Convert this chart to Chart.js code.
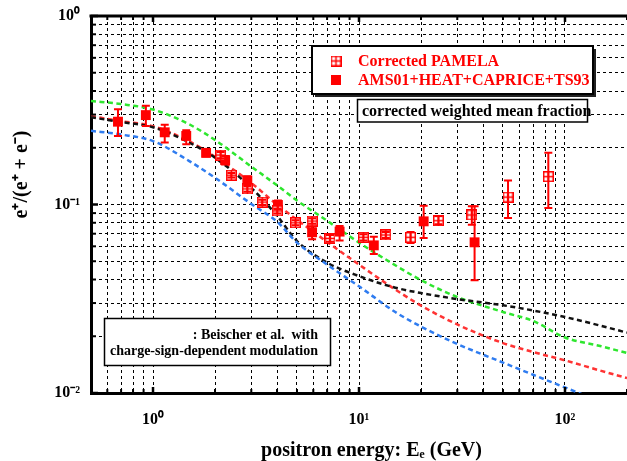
<!DOCTYPE html>
<html>
<head>
<meta charset="utf-8">
<script src="https://cdn.jsdelivr.net/npm/chart.js@4/dist/chart.umd.min.js"></script>
<style>
  html, body { margin: 0; padding: 0; background: #fff; }
  #wrap { width: 627px; height: 461px; }
</style>
</head>
<body>
<div id="wrap"><canvas id="chart" width="627" height="461"></canvas></div>
<script>
// --- data (energy in GeV, fraction e+/(e+ + e-)) ---
const pamelaE  = [2.13, 2.40, 2.87, 3.39, 4.01, 4.92, 5.92, 7.23, 10.5, 13.5, 17.8, 24.3, 35.3, 52.9, 83.0];
const pamelaY  = [0.183, 0.143, 0.121, 0.103, 0.0924, 0.080, 0.0817, 0.0661, 0.067, 0.0689, 0.067, 0.082, 0.088, 0.1095, 0.1405];
const pamelaLo = [0.176, 0.139, 0.117, 0.0995, 0.0895, 0.0775, 0.079, 0.0635, 0.0645, 0.0665, 0.0625, 0.0785, 0.078, 0.0848, 0.0958];
const pamelaHi = [0.190, 0.147, 0.125, 0.106, 0.095, 0.0825, 0.0845, 0.069, 0.0695, 0.0715, 0.0715, 0.087, 0.098, 0.134, 0.188];

const amsE  = [0.676, 0.923, 1.14, 1.45, 1.81, 2.24, 2.87, 4.04, 5.92, 8.05, 11.8, 20.6, 36.4];
const amsY  = [0.275, 0.298, 0.2415, 0.231, 0.188, 0.172, 0.134, 0.0994, 0.0712, 0.0718, 0.0607, 0.0814, 0.063];
const amsLo = [0.231, 0.261, 0.213, 0.209, 0.180, 0.163, 0.127, 0.094, 0.0654, 0.0644, 0.0546, 0.0665, 0.0397];
const amsHi = [0.320, 0.334, 0.265, 0.248, 0.196, 0.181, 0.141, 0.105, 0.0764, 0.0770, 0.0675, 0.0985, 0.098];

// model curves (Beischer et al.)
const curveE     = [0.5, 0.7, 1, 1.5, 2, 3, 4, 5, 7, 10, 15, 20, 30, 50, 70, 100, 150, 200];
const greenCurve = [0.354, 0.341, 0.319, 0.266, 0.22, 0.159, 0.1264, 0.105, 0.082, 0.0628, 0.0476, 0.0397, 0.0323, 0.0269, 0.0241, 0.0197, 0.0177, 0.0163];
const redCurve   = [0.294, 0.277, 0.26, 0.216, 0.179, 0.13, 0.0999, 0.083, 0.0633, 0.048, 0.0354, 0.0291, 0.0231, 0.0184, 0.0165, 0.0149, 0.0131, 0.012];
const blackCurve = [0.29, 0.274, 0.257, 0.213, 0.177, 0.1224, 0.0871, 0.064, 0.0492, 0.0417, 0.0362, 0.0339, 0.0315, 0.0292, 0.0274, 0.0253, 0.0227, 0.0209];
const blueCurve  = [0.246, 0.235, 0.217, 0.170, 0.1386, 0.1007, 0.0811, 0.0628, 0.048, 0.0368, 0.0269, 0.0225, 0.0182, 0.0145, 0.0125, 0.0107, 0.009, 0.0081];

// axis ticks
const xTicks = [0.6, 0.7, 0.8, 0.9, 1, 2, 3, 4, 5, 6, 7, 8, 9, 10, 20, 30, 40, 50, 60, 70, 80, 90, 100, 200];
const xLabelValues = [1, 10, 100];
const xLabelText = ['10\u2070', '10\u00b9', '10\u00b2'];
const yTicks = [0.01, 0.02, 0.03, 0.04, 0.05, 0.06, 0.07, 0.08, 0.09, 0.1, 0.2, 0.3, 0.4, 0.5, 0.6, 0.7, 0.8, 0.9, 1];
const yLabelValues = [0.01, 0.1, 1];
const yLabelText = ['10\u207b\u00b2', '10\u207b\u00b9', '10\u2070'];

const FONT = '"Liberation Serif", "Times New Roman", serif';
const RED = '#ff0000';

const toXY = (xs, ys) => xs.map((x, i) => ({ x: x, y: ys[i] }));
const sameVal = (a, b) => Math.abs(a - b) / b < 1e-6;
const labelFor = (values, texts, v) => {
    const i = values.findIndex(t => sameVal(v, t));
    return i >= 0 ? texts[i] : '';
};
const isDecade = v => Math.abs(Math.log10(v) - Math.round(Math.log10(v))) < 1e-6;

// open square with a cross (PAMELA marker)
function crossSquare() {
    const c = document.createElement('canvas');
    c.width = 11; c.height = 11;
    const g = c.getContext('2d');
    g.fillStyle = '#fff';
    g.fillRect(0, 0, 11, 11);
    g.strokeStyle = RED;
    g.lineWidth = 1.5;
    g.strokeRect(0.75, 0.75, 9.5, 9.5);
    g.beginPath();
    g.moveTo(5.5, 1); g.lineTo(5.5, 10);
    g.moveTo(1, 5.5); g.lineTo(10, 5.5);
    g.stroke();
    return c;
}
const pamelaMarker = crossSquare();

const curve = (label, data, color, order) => ({
    label: label,
    data: toXY(curveE, data),
    showLine: true,
    borderColor: color,
    borderWidth: 2.5,
    borderDash: [5, 3.5],
    pointRadius: 0,
    cubicInterpolationMode: 'monotone',
    order: order
});

// error bars, inward tick marks, top frame, legend and notes
const framePlugin = {
    id: 'frame',
    afterDatasetsDraw(chart) {
        const { ctx, scales: { x, y } } = chart;
        ctx.save();
        ctx.strokeStyle = RED;
        ctx.lineWidth = 2;
        chart.data.datasets.forEach(ds => {
            if (!ds.errLo) return;
            ds.data.forEach((p, i) => {
                const px = x.getPixelForValue(p.x);
                const lo = y.getPixelForValue(ds.errLo[i]);
                const hi = y.getPixelForValue(ds.errHi[i]);
                ctx.beginPath();
                ctx.moveTo(px, lo); ctx.lineTo(px, hi);
                ctx.moveTo(px - 4, lo); ctx.lineTo(px + 4, lo);
                ctx.moveTo(px - 4, hi); ctx.lineTo(px + 4, hi);
                ctx.stroke();
            });
        });
        ctx.restore();
    },
    afterDraw(chart) {
        const { ctx, chartArea: a, scales: { x, y } } = chart;
        ctx.save();
        ctx.strokeStyle = '#000';
        // top frame line
        ctx.lineWidth = 3;
        ctx.beginPath();
        ctx.moveTo(a.left - 1.5, a.top);
        ctx.lineTo(a.right, a.top);
        ctx.stroke();
        // inward ticks
        xTicks.forEach(v => {
            const px = x.getPixelForValue(v);
            const len = isDecade(v) ? 6 : 4;
            ctx.lineWidth = isDecade(v) ? 2.5 : 2;
            ctx.beginPath();
            ctx.moveTo(px, a.bottom); ctx.lineTo(px, a.bottom - len);
            ctx.moveTo(px, a.top); ctx.lineTo(px, a.top + len);
            ctx.stroke();
        });
        yTicks.forEach(v => {
            const py = y.getPixelForValue(v);
            const len = isDecade(v) ? 7 : 5;
            ctx.lineWidth = isDecade(v) ? 2.5 : 2;
            ctx.beginPath();
            ctx.moveTo(a.left, py); ctx.lineTo(a.left + len, py);
            ctx.stroke();
        });

        // legend box with shadow
        const ds = chart.data.datasets;
        ctx.fillStyle = '#222';
        ctx.fillRect(315, 49, 281, 48);
        ctx.fillStyle = '#fff';
        ctx.fillRect(312, 46, 281, 48);
        ctx.lineWidth = 2;
        ctx.strokeRect(312, 46, 281, 48);
        ctx.drawImage(pamelaMarker, 336 - 5.5, 61 - 5.5);
        ctx.fillStyle = RED;
        ctx.fillRect(331, 75, 10, 10);
        ctx.font = 'bold 16px ' + FONT;
        ctx.textBaseline = 'middle';
        ctx.textAlign = 'left';
        ctx.fillText(ds[0].label, 358, 62);
        ctx.fillText(ds[1].label, 358, 81);

        // weighted mean note
        ctx.fillStyle = '#fff';
        ctx.fillRect(357.5, 99.5, 230, 22.5);
        ctx.lineWidth = 1.5;
        ctx.strokeRect(357.5, 99.5, 230, 22.5);
        ctx.fillStyle = '#000';
        ctx.fillText('corrected weighted mean fraction', 362, 111.5);

        // model note
        ctx.fillStyle = '#fff';
        ctx.fillRect(104.5, 318.5, 226, 47);
        ctx.strokeRect(104.5, 318.5, 226, 47);
        ctx.fillStyle = '#000';
        ctx.font = 'bold 14px ' + FONT;
        ctx.textAlign = 'right';
        ctx.fillText(': Beischer et al.  with', 318, 335);
        ctx.fillText('charge-sign-dependent modulation', 318, 351);
        ctx.restore();
    }
};

new Chart(document.getElementById('chart'), {
    type: 'scatter',
    data: {
        datasets: [
            {
                label: 'Corrected PAMELA',
                data: toXY(pamelaE, pamelaY),
                errLo: pamelaLo,
                errHi: pamelaHi,
                pointStyle: pamelaMarker,
                order: 0
            },
            {
                label: 'AMS01+HEAT+CAPRICE+TS93',
                data: toXY(amsE, amsY),
                errLo: amsLo,
                errHi: amsHi,
                pointStyle: 'rect',
                pointRadius: 7,
                backgroundColor: RED,
                borderColor: RED,
                borderWidth: 0,
                order: 1
            },
            curve('green', greenCurve, '#2ee62e', 5),
            curve('red', redCurve, '#ff3333', 4),
            curve('black', blackCurve, '#111111', 3),
            curve('blue', blueCurve, '#2f7cf0', 2)
        ]
    },
    options: {
        responsive: false,
        devicePixelRatio: 1,
        animation: false,
        events: [],
        layout: { autoPadding: false, padding: { left: 0, top: 16, right: 0, bottom: 0 } },
        plugins: { legend: { display: false }, tooltip: { enabled: false } },
        scales: {
            x: {
                type: 'logarithmic',
                min: 0.5,
                max: 200,
                afterBuildTicks: s => { s.ticks = xTicks.map(v => ({ value: v })); },
                afterFit: s => { s.height = 68; s.paddingLeft = 0; s.paddingRight = 0; },
                grid: { color: '#000', lineWidth: 1, drawTicks: false },
                border: { display: true, color: '#000', width: 3, dash: [3, 3] },
                ticks: {
                    autoSkip: false,
                    maxRotation: 0,
                    padding: 17,
                    color: '#000',
                    font: { family: FONT, size: 16, weight: 'bold' },
                    callback: v => labelFor(xLabelValues, xLabelText, v)
                },
                title: {
                    display: true,
                    text: '     positron energy: E\u2091 (GeV)',
                    color: '#000',
                    font: { family: FONT, size: 20, weight: 'bold', lineHeight: 1 },
                    padding: { top: 0, bottom: 0 }
                }
            },
            y: {
                type: 'logarithmic',
                min: 0.01,
                max: 1,
                afterBuildTicks: s => { s.ticks = yTicks.map(v => ({ value: v })); },
                afterFit: s => { s.width = 91; s.paddingTop = 0; s.paddingBottom = 0; },
                grid: { color: '#000', lineWidth: 1, drawTicks: false },
                border: { display: true, color: '#000', width: 3, dash: [3, 3] },
                ticks: {
                    autoSkip: false,
                    padding: 11,
                    color: '#000',
                    font: { family: FONT, size: 16, weight: 'bold' },
                    callback: v => labelFor(yLabelValues, yLabelText, v)
                },
                title: {
                    display: true,
                    text: '            e\u207a/(e\u207a + e\u207b)',
                    color: '#000',
                    font: { family: FONT, size: 20, weight: 'bold', lineHeight: 1 },
                    padding: { top: 12, bottom: 0 }
                }
            }
        }
    },
    plugins: [framePlugin]
});
</script>
</body>
</html>
